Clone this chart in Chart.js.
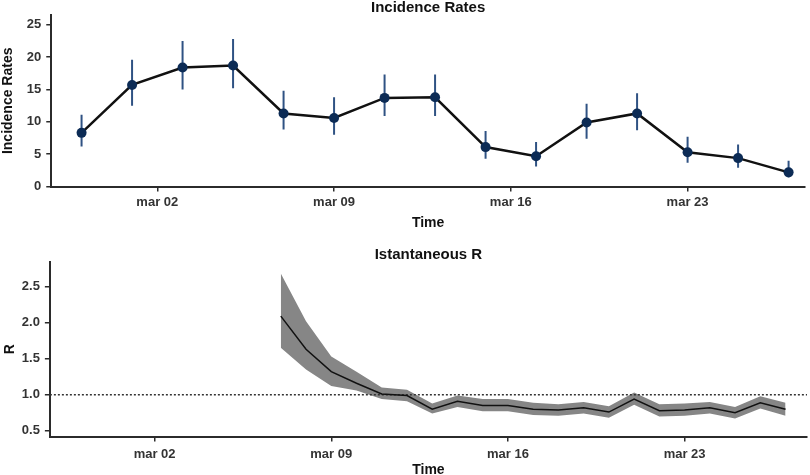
<!DOCTYPE html>
<html>
<head>
<meta charset="utf-8">
<script src="https://cdn.jsdelivr.net/npm/chart.js@4.4.0/dist/chart.umd.min.js"></script>
<style>
    html, body { margin: 0; padding: 0; background: #fff; overflow: hidden; }
    .panel { position: absolute; left: 0; width: 810px; }
    #top { top: 0; height: 232px; }
    #bottom { top: 232px; height: 247px; }
</style>
</head>
<body>
<div class="panel" id="top"><canvas id="incidenceChart"></canvas></div>
<div class="panel" id="bottom"><canvas id="rChart"></canvas></div>
<script>
// Days are counted as day of March 2020 (feb 29 = 0, feb 28 = -1)
var incDays = [-1, 1, 3, 5, 7, 9, 11, 13, 15, 17, 19, 21, 23, 25, 27];
var incRates = [8.3, 15.7, 18.4, 18.7, 11.3, 10.6, 13.7, 13.8, 6.1, 4.7, 9.9, 11.3, 5.3, 4.4, 2.2];
var incUpper = [11.1, 19.6, 22.5, 22.8, 14.8, 13.8, 17.3, 17.3, 8.6, 6.9, 12.8, 14.4, 7.7, 6.5, 4.0];
var incLower = [6.2, 12.5, 15.0, 15.2, 8.8, 8.0, 10.9, 10.9, 4.3, 3.1, 7.4, 8.7, 3.7, 2.9, 1.4];

var rDays = [7, 8, 9, 10, 11, 12, 13, 14, 15, 16, 17, 18, 19, 20, 21, 22, 23, 24, 25, 26, 27];
var rMean = [2.09, 1.63, 1.32, 1.16, 1.01, 0.99, 0.80, 0.91, 0.85, 0.85, 0.80, 0.79, 0.82, 0.76, 0.94, 0.78, 0.79, 0.82, 0.75, 0.89, 0.80];
var rUpper = [2.68, 2.02, 1.53, 1.32, 1.10, 1.07, 0.88, 0.99, 0.94, 0.94, 0.89, 0.87, 0.90, 0.84, 1.03, 0.87, 0.88, 0.90, 0.83, 0.98, 0.89];
var rLower = [1.65, 1.35, 1.12, 1.06, 0.94, 0.91, 0.74, 0.83, 0.77, 0.77, 0.72, 0.71, 0.74, 0.68, 0.86, 0.70, 0.71, 0.74, 0.67, 0.81, 0.71];
var rThreshold = 1;

var xTickDays = [2, 9, 16, 23];
var xTickLabels = ['mar 02', 'mar 09', 'mar 16', 'mar 23'];
var incTicks = [0, 5, 10, 15, 20, 25];
var rTicks = [0.5, 1.0, 1.5, 2.0, 2.5];

var FONT = "'Liberation Sans', Arial, sans-serif";
var AXIS_COLOR = '#2b2b2b';

// Shared axis look (classic theme: axis lines + outward ticks, no grid)
function axisBase(min, max, tickValues, labelFn, titleText, titlePadding, tickPadding) {
    return {
        type: 'linear',
        min: min,
        max: max,
        border: { display: true, color: AXIS_COLOR, width: 2 },
        grid: {
            display: true,
            drawOnChartArea: false,
            drawTicks: true,
            tickLength: 5,
            tickColor: AXIS_COLOR,
            lineWidth: 1.5
        },
        afterBuildTicks: function(axis) {
            axis.ticks = tickValues.map(function(v) { return { value: v }; });
        },
        ticks: {
            autoSkip: false,
            maxRotation: 0,
            padding: tickPadding,
            color: '#333',
            font: { family: FONT, size: 13, weight: 'bold' },
            callback: labelFn
        },
        title: {
            display: true,
            text: titleText,
            color: '#111',
            padding: titlePadding,
            font: { family: FONT, size: 14, weight: 'bold' }
        }
    };
}

function dayLabel(v) {
    var i = xTickDays.indexOf(v);
    return i >= 0 ? xTickLabels[i] : '';
}

function chartTitle(text, bottomPad) {
    return {
        display: true,
        text: text,
        fullSize: false,
        color: '#111',
        padding: { top: 0, bottom: bottomPad },
        font: { family: FONT, size: 15, weight: 'bold', lineHeight: 1 }
    };
}

// Error bars as broken line segments (null splits each bar)
var errorBarData = [];
for (var i = 0; i < incDays.length; i++) {
    errorBarData.push({ x: incDays[i], y: incLower[i] });
    errorBarData.push({ x: incDays[i], y: incUpper[i] });
    errorBarData.push({ x: incDays[i], y: null });
}

new Chart(document.getElementById('incidenceChart'), {
    type: 'line',
    data: {
        datasets: [{
            data: errorBarData,
            borderColor: '#2f5283',
            borderWidth: 2,
            pointRadius: 0,
            spanGaps: false,
            order: 2
        }, {
            data: incDays.map(function(d, i) { return { x: d, y: incRates[i] }; }),
            borderColor: '#111',
            borderWidth: 2.5,
            pointRadius: 5,
            pointBackgroundColor: '#0c2b55',
            pointBorderWidth: 0,
            order: 0
        }]
    },
    options: {
        responsive: true,
        maintainAspectRatio: false,
        animation: false,
        layout: { padding: { top: 0, right: 3, bottom: 0, left: 0 } },
        plugins: {
            legend: { display: false },
            tooltip: { enabled: false },
            title: chartTitle('Incidence Rates', 0)
        },
        scales: {
            x: axisBase(-2.2, 27.65, xTickDays, dayLabel, 'Time', { top: 2, bottom: 0 }, 3),
            y: axisBase(0, 26.5, incTicks, function(v) { return v; }, 'Incidence Rates', { top: 0, bottom: 5 }, 5)
        }
    }
});

new Chart(document.getElementById('rChart'), {
    type: 'line',
    data: {
        datasets: [{
            data: rDays.map(function(d, i) { return { x: d, y: rUpper[i] }; }),
            borderWidth: 0,
            pointRadius: 0,
            backgroundColor: '#868686',
            fill: '+1',
            order: 3
        }, {
            data: rDays.map(function(d, i) { return { x: d, y: rLower[i] }; }),
            borderWidth: 0,
            pointRadius: 0,
            fill: false,
            order: 3
        }, {
            data: [{ x: -2.15, y: rThreshold }, { x: 27.85, y: rThreshold }],
            borderColor: '#333',
            borderWidth: 1.5,
            borderDash: [2, 2],
            pointRadius: 0,
            order: 2
        }, {
            data: rDays.map(function(d, i) { return { x: d, y: rMean[i] }; }),
            borderColor: '#111',
            borderWidth: 1.5,
            pointRadius: 0,
            order: 1
        }]
    },
    options: {
        responsive: true,
        maintainAspectRatio: false,
        animation: false,
        layout: { padding: { top: 15, right: 3, bottom: 0, left: 0 } },
        plugins: {
            legend: { display: false },
            tooltip: { enabled: false },
            title: chartTitle('Istantaneous R', 0)
        },
        scales: {
            x: axisBase(-2.15, 27.85, xTickDays, dayLabel, 'Time', { top: -5, bottom: 0 }, 5),
            y: axisBase(0.42, 2.84, rTicks, function(v) { return v.toFixed(1); }, 'R', { top: 2, bottom: -2 }, 5)
        }
    }
});
</script>
</body>
</html>
